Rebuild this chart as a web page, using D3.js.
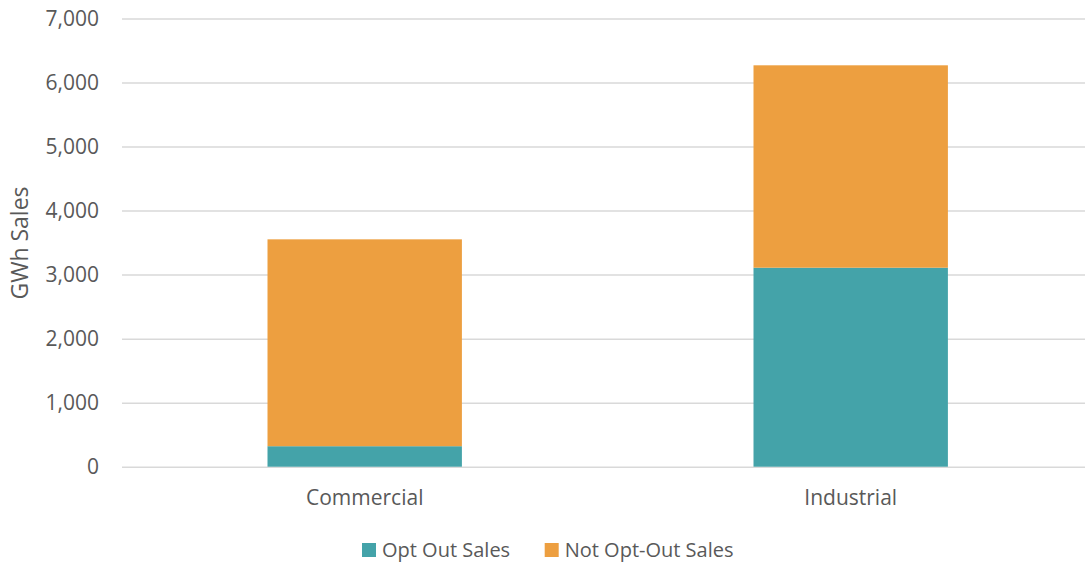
<!DOCTYPE html>
<html><head><meta charset="utf-8">
<script src="https://cdn.jsdelivr.net/npm/d3@7"></script>
<style>body{margin:0;background:#fff}svg{display:block}text{font-family:"Open Sans",sans-serif;fill:#595959}</style>
</head><body><svg id="c" width="1085" height="562"></svg>
<script>
const categories = ["Commercial", "Industrial"];
const optOut = [320, 3108];
const notOptOut = [3231, 3161];
const seriesNames = ["Opt Out Sales", "Not Opt-Out Sales"];
const yTicks = [0, 1000, 2000, 3000, 4000, 5000, 6000, 7000];
const colors = ["#44A3A9", "#ED9F40"];
const FONT = "'Open Sans', sans-serif";

const svg = d3.select("#c");
const y = d3.scaleLinear().domain([0, 7000]).range([466.7, 18.5]);
const x = d3.scaleBand().domain(categories).range([121.7, 1093.7]).paddingInner(0.6).paddingOuter(0.3);

const gy = svg.append("g").attr("transform", "translate(122,0)")
  .call(d3.axisLeft(y).tickValues(yTicks).tickFormat(d3.format(",")).tickSize(-1000).tickPadding(23));
gy.attr("font-size", null).attr("font-family", null);
gy.select(".domain").remove();
gy.selectAll(".tick line").attr("stroke", "#d9d9d9").attr("stroke-width", 1.5);
gy.selectAll(".tick text").style("font-size", "21px").style("font-family", FONT).style("fill", "#595959");

const data = categories.map((c, i) => ({cat: c, optOut: optOut[i], notOptOut: notOptOut[i]}));
const stack = d3.stack().keys(["optOut", "notOptOut"])(data);
svg.append("g").selectAll("g").data(stack).join("g").attr("fill", (d, i) => colors[i])
  .selectAll("rect").data(d => d).join("rect")
  .attr("x", d => x(d.data.cat)).attr("width", x.bandwidth())
  .attr("y", d => y(d[1])).attr("height", d => y(d[0]) - y(d[1]));

const gx = svg.append("g").attr("transform", "translate(0,466.7)")
  .call(d3.axisBottom(x).tickSize(0).tickPadding(23));
gx.attr("font-size", null).attr("font-family", null);
gx.select(".domain").remove();
gx.selectAll(".tick text").style("font-size", "21px").style("font-family", FONT).style("fill", "#595959");

svg.append("text").attr("transform", "translate(28,243) rotate(-90)").attr("text-anchor", "middle")
  .style("font-size", "23px").text("GWh Sales");

const legX = [362, 544.7];
const leg = svg.append("g");
seriesNames.forEach((n, i) => {
  leg.append("rect").attr("x", legX[i]).attr("y", 543).attr("width", 14).attr("height", 14).attr("fill", colors[i]);
  leg.append("text").attr("x", legX[i] + 20).attr("y", 557).style("font-size", "20px").text(n);
});
</script></body></html>
